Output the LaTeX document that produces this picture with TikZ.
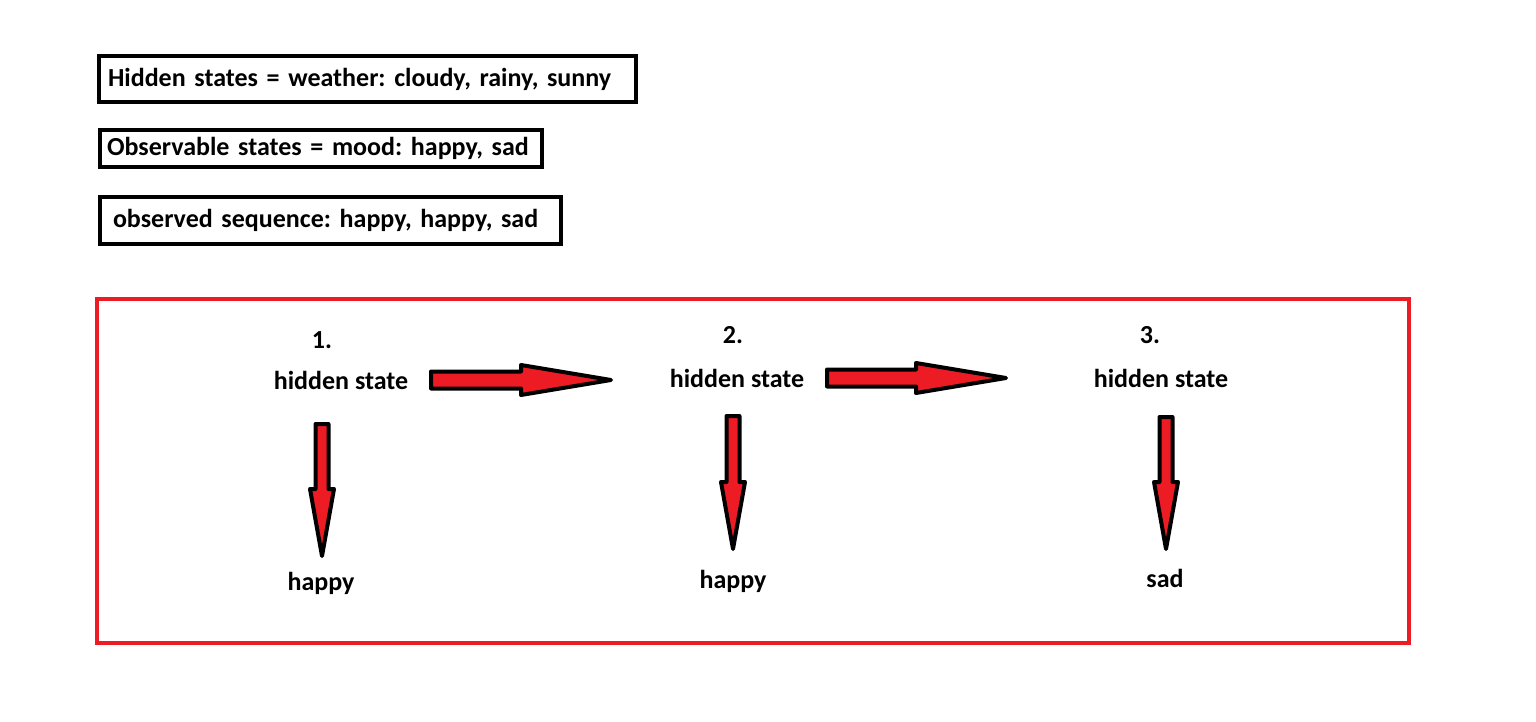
\documentclass[tikz,border=0pt]{standalone}
\usepackage{fontspec}
\setmainfont{Carlito}
\usetikzlibrary{calc}
\definecolor{pred}{HTML}{ED1C24}
\frenchspacing
\newcommand{\fatarrow}[5]{%
  \coordinate (fa-c) at ($(#2)!#5!(#1)$);
  \filldraw[fatarrowstyle] ($(#1)!#3!90:(#2)$) -- ($(fa-c)!#3!90:(#2)$) -- ($(fa-c)!#4!90:(#2)$) -- (#2)
    -- ($(fa-c)!#4!-90:(#2)$) -- ($(fa-c)!#3!-90:(#2)$) -- ($(#1)!#3!-90:(#2)$) -- cycle;
}
\begin{document}
\begin{tikzpicture}[x=1pt,y=-1pt,
  every node/.style={font=\fontsize{26}{30}\selectfont\bfseries},
  box/.style={draw=black, line width=4pt, anchor=north west, align=left},
  lbl/.style={inner sep=0pt},
  fatarrowstyle/.style={fill=pred, draw=black, line width=4pt, line join=round}]
\useasboundingbox (0,0) rectangle (1536,721);
\fill[white] (0,0) rectangle (1536,721);

\node[box, inner xsep=9pt, text width=519pt, minimum height=46pt] (b1) at (97,54) {\frenchspacing Hidden states = weather: cloudy, rainy, sunny};
\node[box, inner xsep=7pt, text width=428pt, minimum height=37pt] (b2) at (98,128) {\frenchspacing Observable states = mood: happy, sad};
\node[box, inner xsep=13pt, text width=435pt, minimum height=47pt] (b3) at (98,195) {\frenchspacing observed sequence: happy, happy, sad};

\node[draw=pred, line width=4pt, anchor=north west, minimum width=1312pt, minimum height=344pt, inner sep=0pt] (frame) at (95,297) {};

\node[lbl] (n1) at (322,340) {1.};
\node[lbl] (h1) at (341,380) {hidden state};
\node[lbl] (n2) at (733,335) {2.};
\node[lbl] (h2) at (737,378) {hidden state};
\node[lbl] (n3) at (1150,335) {3.};
\node[lbl] (h3) at (1161,378) {hidden state};
\node[lbl] (o1) at (321,583) {happy};
\node[lbl] (o2) at (733,581) {happy};
\node[lbl] (o3) at (1165,578) {sad};

\coordinate (a1s) at (431,380); \coordinate (a1t) at (611,380);
\coordinate (a2s) at (827,378); \coordinate (a2t) at (1006,378);
\coordinate (v1s) at (322,424); \coordinate (v1t) at (322,556);
\coordinate (v2s) at (733,416); \coordinate (v2t) at (733,549);
\coordinate (v3s) at (1166,417); \coordinate (v3t) at (1166,549);

\fatarrow{a1s}{a1t}{8.5pt}{15pt}{90pt}
\fatarrow{a2s}{a2t}{8.5pt}{15pt}{90pt}
\fatarrow{v1s}{v1t}{6.5pt}{12pt}{67pt}
\fatarrow{v2s}{v2t}{6.5pt}{12pt}{67pt}
\fatarrow{v3s}{v3t}{6.5pt}{12pt}{67pt}
\end{tikzpicture}
\end{document}
